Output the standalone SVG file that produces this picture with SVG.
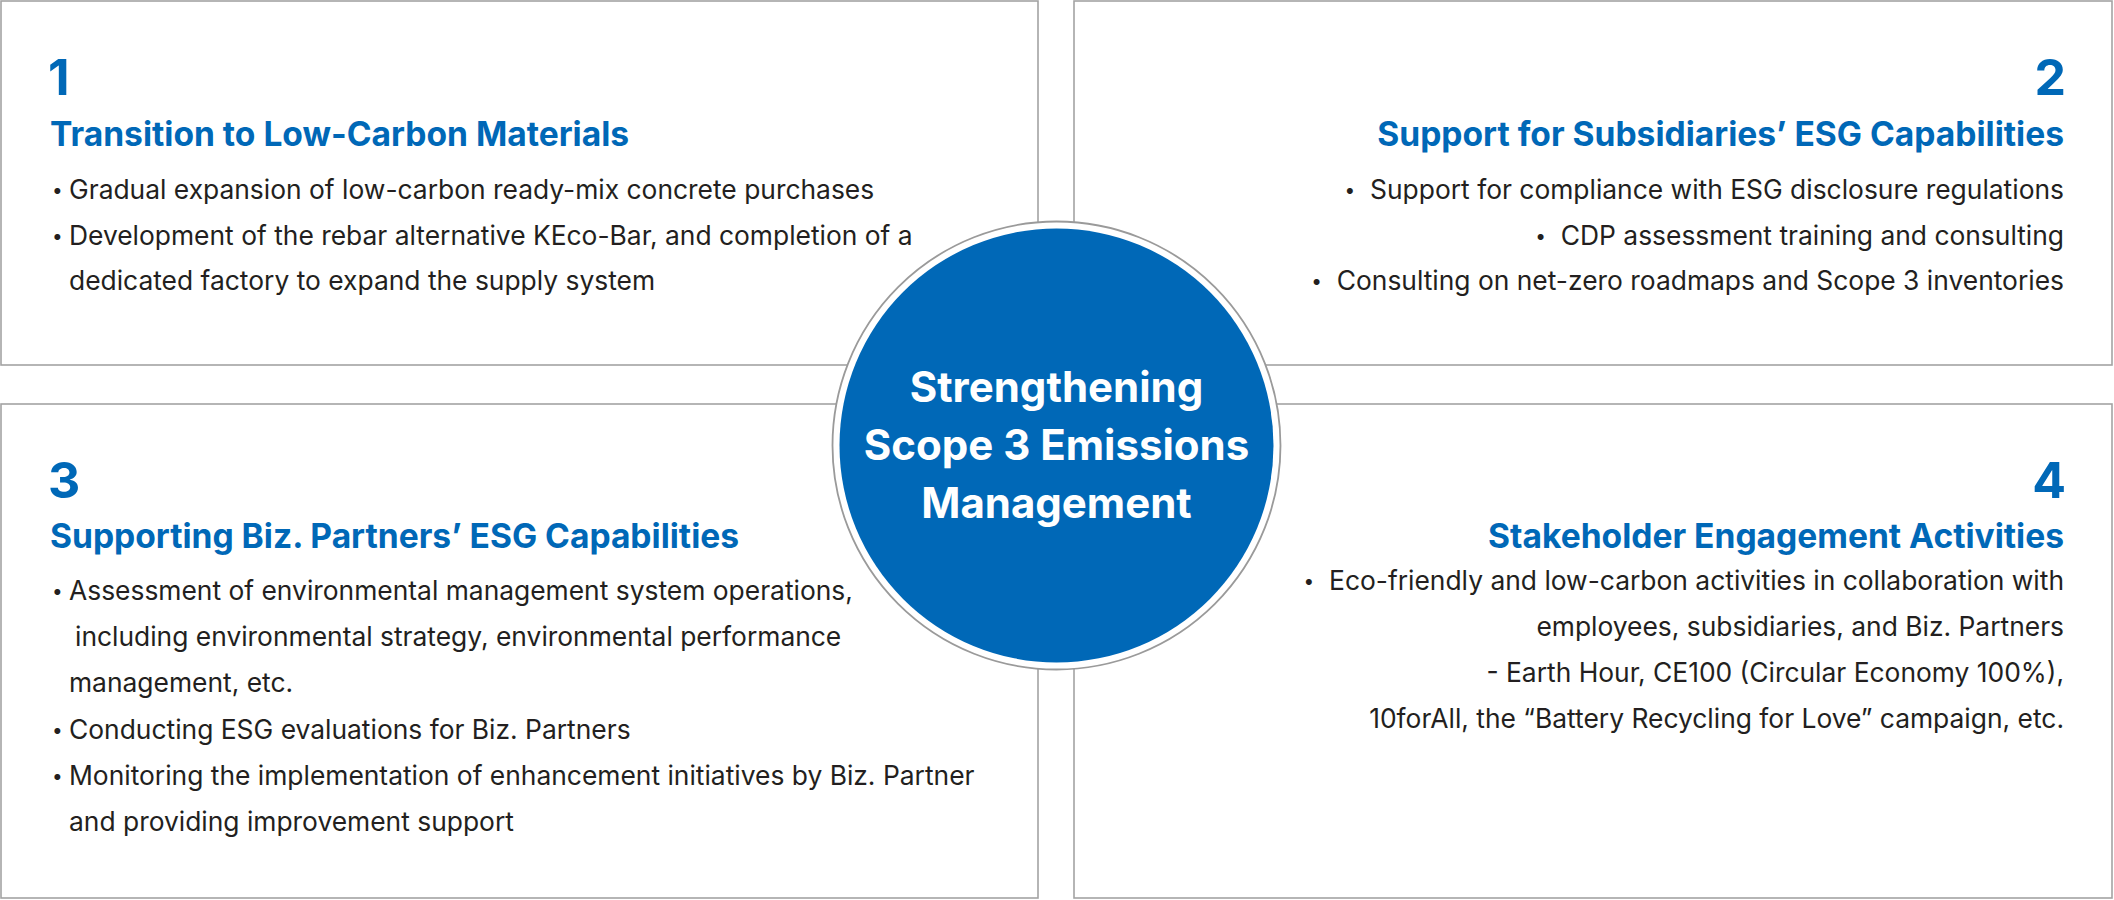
<svg xmlns="http://www.w3.org/2000/svg" width="2114" height="900" viewBox="0 0 2114 900">
<style>
.box{fill:#fff;stroke:#a3a3a3;stroke-width:1.6}
.num{font-family:Inter,"Liberation Sans",sans-serif;font-weight:700;font-size:50px;fill:#0068b7}
.ttl{font-family:Inter,"Liberation Sans",sans-serif;font-weight:700;font-size:33.6px;fill:#0068b7}
.txt{font-family:Inter,"Liberation Sans",sans-serif;font-size:26.4px;fill:#231f20}
.b{font-size:19px}
.end{text-anchor:end}
.ctr{font-family:Inter,"Liberation Sans",sans-serif;font-weight:700;font-size:42px;fill:#fff;text-anchor:middle}
</style>
<rect width="2114" height="900" fill="#fff"/>
<g id="node1">
<rect class="box" x="1" y="1" width="1037" height="364"/>
<text class="num" x="48" y="95">1</text>
<text class="ttl" x="50" y="146">Transition to Low-Carbon Materials</text>
<text class="txt" x="52" y="197"><tspan class="b">•</tspan><tspan x="69" y="199">Gradual expansion of low-carbon ready-mix concrete purchases</tspan></text>
<text class="txt" x="52" y="243"><tspan class="b">•</tspan><tspan x="69" y="245">Development of the rebar alternative KEco-Bar, and completion of a</tspan></text>
<text class="txt" x="69" y="290">dedicated factory to expand the supply system</text>
</g>
<g id="node2">
<rect class="box" x="1074" y="1" width="1038" height="364"/>
<text class="num end" x="2066" y="95">2</text>
<text class="ttl end" x="2064" y="146">Support for Subsidiaries’ ESG Capabilities</text>
<text class="txt end" x="2064" y="199"><tspan class="b" dy="-2">•</tspan><tspan dy="2">&#160;&#160;Support for compliance with ESG disclosure regulations</tspan></text>
<text class="txt end" x="2064" y="245"><tspan class="b" dy="-2">•</tspan><tspan dy="2">&#160;&#160;CDP assessment training and consulting</tspan></text>
<text class="txt end" x="2064" y="290"><tspan class="b" dy="-2">•</tspan><tspan dy="2">&#160;&#160;Consulting on net-zero roadmaps and Scope 3 inventories</tspan></text>
</g>
<g id="node3">
<rect class="box" x="1" y="404" width="1037" height="494"/>
<text class="num" x="48" y="498">3</text>
<text class="ttl" x="50" y="548">Supporting Biz. Partners’ ESG Capabilities</text>
<text class="txt" x="52" y="598"><tspan class="b">•</tspan><tspan x="69" y="600">Assessment of environmental management system operations,</tspan></text>
<text class="txt" x="75" y="646">including environmental strategy, environmental performance</text>
<text class="txt" x="69" y="692">management, etc.</text>
<text class="txt" x="52" y="737"><tspan class="b">•</tspan><tspan x="69" y="739">Conducting ESG evaluations for Biz. Partners</tspan></text>
<text class="txt" x="52" y="783"><tspan class="b">•</tspan><tspan x="69" y="785">Monitoring the implementation of enhancement initiatives by Biz. Partner</tspan></text>
<text class="txt" x="69" y="831">and providing improvement support</text>
</g>
<g id="node4">
<rect class="box" x="1074" y="404" width="1038" height="494"/>
<text class="num end" x="2066" y="498">4</text>
<text class="ttl end" x="2064" y="548">Stakeholder Engagement Activities</text>
<text class="txt end" x="2064" y="590"><tspan class="b" dy="-2">•</tspan><tspan dy="2">&#160;&#160;Eco-friendly and low-carbon activities in collaboration with</tspan></text>
<text class="txt end" x="2064" y="636">employees, subsidiaries, and Biz. Partners</text>
<text class="txt end" x="2064" y="682">- Earth Hour, CE100 (Circular Economy 100%),</text>
<text class="txt end" x="2064" y="728">10forAll, the “Battery Recycling for Love” campaign, etc.</text>
</g>
<g id="center">
<circle cx="1056.5" cy="445.5" r="224" fill="#fff" stroke="#9a9a9a" stroke-width="1.8"/>
<circle cx="1056.5" cy="445.5" r="217" fill="#0068b7"/>
<text class="ctr" x="1056.5" y="402">Strengthening</text>
<text class="ctr" x="1056.5" y="460">Scope 3 Emissions</text>
<text class="ctr" x="1056.5" y="518">Management</text>
</g>
<g id="connectors"/>
</svg>
